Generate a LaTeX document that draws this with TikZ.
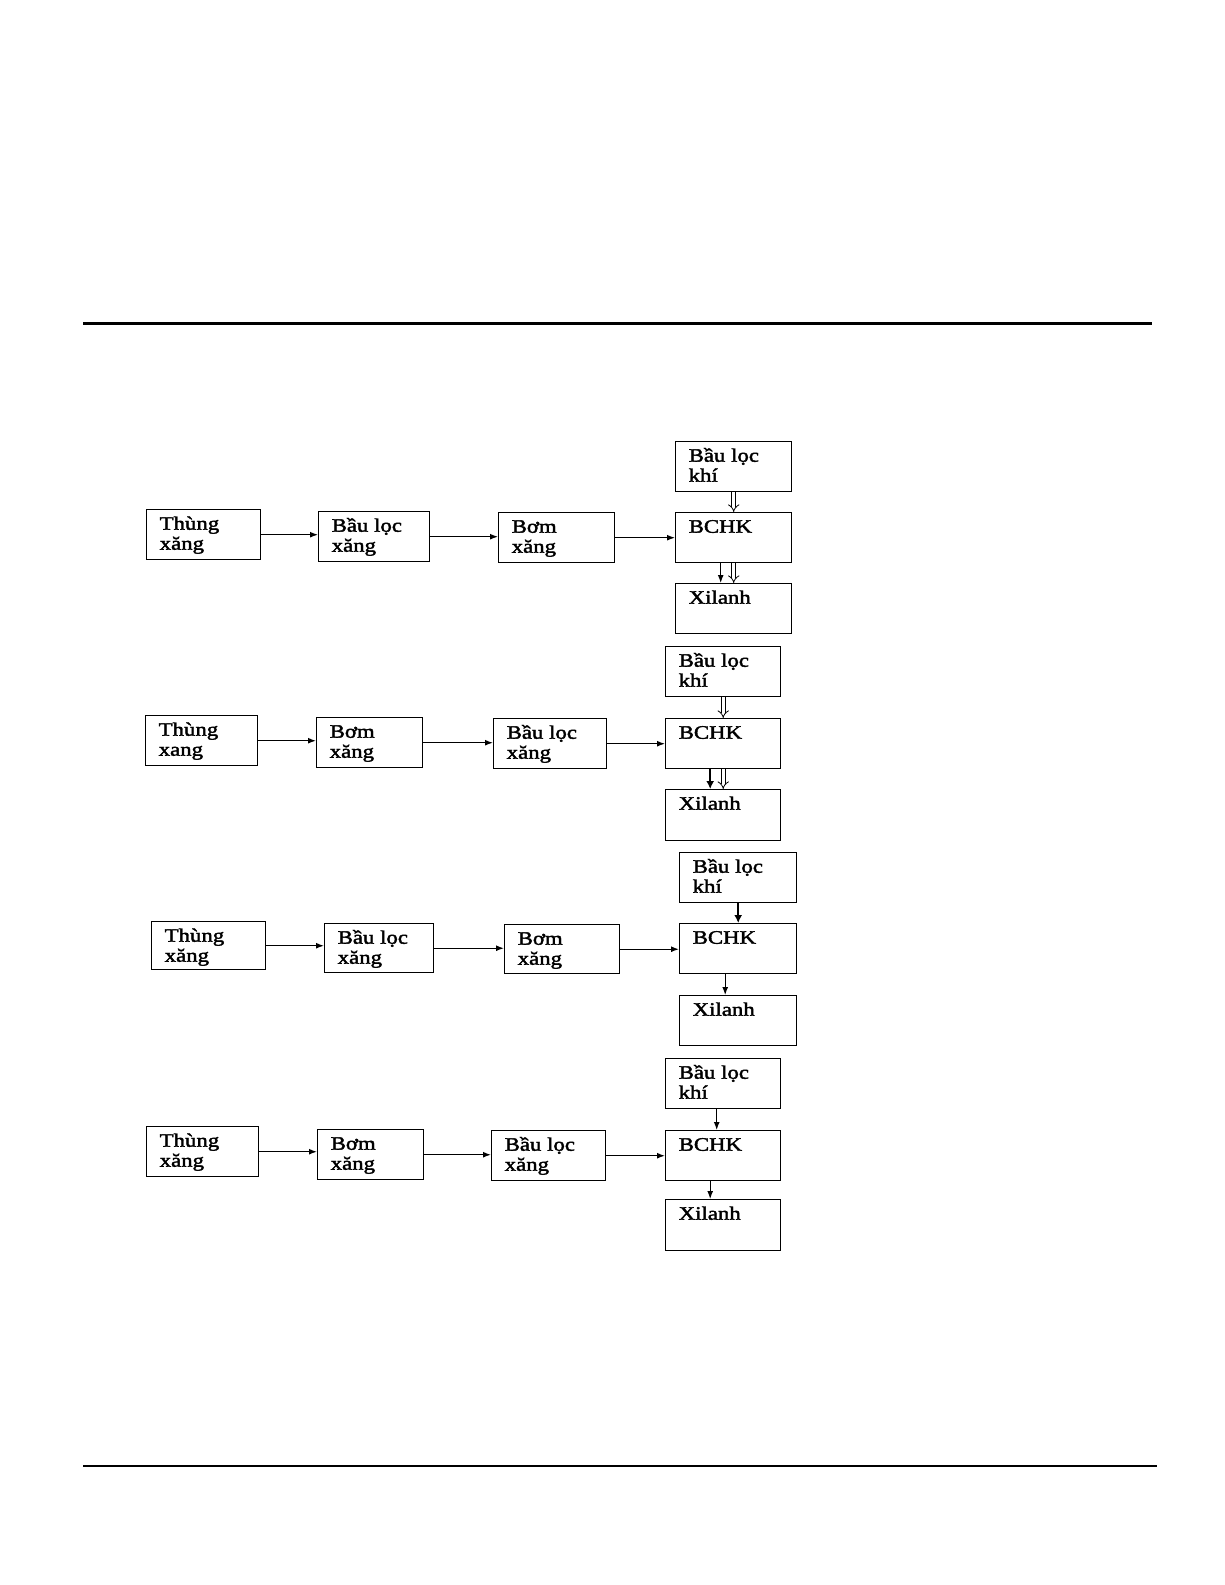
\documentclass[tikz,border=0pt]{standalone}
\usepackage{fontspec}
\setmainfont{Liberation Serif}[FakeStretch=1.2,FakeBold=2]
\usetikzlibrary{arrows.meta}
\newcommand\bt[2]{\parbox[t]{#1pt}{\raggedright\leftskip=13pt #2}}
\tikzset{
  box/.style={draw, line width=1.4pt, inner sep=0pt, anchor=north west,
    text height=20pt, font=\fontsize{19}{20}\selectfont},
  flow/.style={line width=1.3pt, -{Latex[length=8pt,width=6pt]}},
  thick flow/.style={line width=2.4pt, -{Latex[length=8pt,width=8pt]}},
  hollow/.style={double, double distance=3.2pt, line width=0.8pt, -{Implies}},
  rule/.style={line width=3pt}
}
\begin{document}
\begin{tikzpicture}[x=1pt,y=-1pt]
\useasboundingbox (0,0) rectangle (1225,1585);
\coordinate (r1a) at (83,323); \coordinate (r1b) at (1152,323);
\coordinate (r2a) at (83,1466); \coordinate (r2b) at (1157,1466);
\draw[rule] (r1a) -- (r1b);
\draw[line width=2pt] (r2a) -- (r2b);

% Row 1
\node[box, text depth=30pt] (A1) at (146,509) {\bt{114}{Thùng\\xăng}};
\node[box, text depth=30pt] (B1) at (318,511) {\bt{111}{Bầu lọc\\xăng}};
\node[box, text depth=30pt] (C1) at (498,512) {\bt{116}{Bơm\\xăng}};
\node[box, text depth=30pt] (K1) at (675,441) {\bt{116}{Bầu lọc\\khí}};
\node[box, text depth=30pt] (H1) at (675,512) {\bt{116}{BCHK}};
\node[box, text depth=30pt] (X1) at (675,583) {\bt{116}{Xilanh}};
\draw[flow] (A1.east) -- (A1.east -| B1.west);
\draw[flow] (B1.east) -- (B1.east -| C1.west);
\draw[flow] (C1.east) -- (C1.east -| H1.west);
\draw[hollow] (K1.south) -- (H1.north);
\draw[flow] ([xshift=-13pt]H1.south) -- ([xshift=-13pt]X1.north);
\draw[hollow] (H1.south) -- (X1.north);

% Row 2
\node[box, text depth=30pt] (A2) at (145,715) {\bt{112}{Thùng\\xang}};
\node[box, text depth=30pt] (B2) at (316,717) {\bt{106}{Bơm\\xăng}};
\node[box, text depth=30pt] (C2) at (493,718) {\bt{113}{Bầu lọc\\xăng}};
\node[box, text depth=30pt] (K2) at (665,646) {\bt{115}{Bầu lọc\\khí}};
\node[box, text depth=30pt] (H2) at (665,718) {\bt{115}{BCHK}};
\node[box, text depth=31pt] (X2) at (665,789) {\bt{115}{Xilanh}};
\draw[flow] (A2.east) -- (A2.east -| B2.west);
\draw[flow] (B2.east) -- (B2.east -| C2.west);
\draw[flow] (C2.east) -- (C2.east -| H2.west);
\draw[hollow] (K2.south) -- (H2.north);
\draw[thick flow] ([xshift=-13pt]H2.south) -- ([xshift=-13pt]X2.north);
\draw[hollow] (H2.south) -- (X2.north);

% Row 3
\node[box, text depth=28pt] (A3) at (151,921) {\bt{114}{Thùng\\xăng}};
\node[box, text depth=29pt] (B3) at (324,923) {\bt{109}{Bầu lọc\\xăng}};
\node[box, text depth=29pt] (C3) at (504,924) {\bt{115}{Bơm\\xăng}};
\node[box, text depth=30pt] (K3) at (679,852) {\bt{117}{Bầu lọc\\khí}};
\node[box, text depth=30pt] (H3) at (679,923) {\bt{117}{BCHK}};
\node[box, text depth=30pt] (X3) at (679,995) {\bt{117}{Xilanh}};
\draw[flow] (A3.east) -- (A3.east -| B3.west);
\draw[flow] (B3.east) -- (B3.east -| C3.west);
\draw[flow] (C3.east) -- (C3.east -| H3.west);
\draw[thick flow] (K3.south) -- (H3.north);
\draw[flow] ([xshift=-13pt]H3.south) -- ([xshift=-13pt]X3.north);

% Row 4
\node[box, text depth=30pt] (A4) at (146,1126) {\bt{112}{Thùng\\xăng}};
\node[box, text depth=30pt] (B4) at (317,1129) {\bt{106}{Bơm\\xăng}};
\node[box, text depth=30pt] (C4) at (491,1130) {\bt{114}{Bầu lọc\\xăng}};
\node[box, text depth=30pt] (K4) at (665,1058) {\bt{115}{Bầu lọc\\khí}};
\node[box, text depth=30pt] (H4) at (665,1130) {\bt{115}{BCHK}};
\node[box, text depth=31pt] (X4) at (665,1199) {\bt{115}{Xilanh}};
\draw[flow] (A4.east) -- (A4.east -| B4.west);
\draw[flow] (B4.east) -- (B4.east -| C4.west);
\draw[flow] (C4.east) -- (C4.east -| H4.west);
\draw[flow] ([xshift=-6.5pt]K4.south) -- ([xshift=-6.5pt]H4.north);
\draw[flow] ([xshift=-13pt]H4.south) -- ([xshift=-13pt]X4.north);
\end{tikzpicture}
\end{document}
